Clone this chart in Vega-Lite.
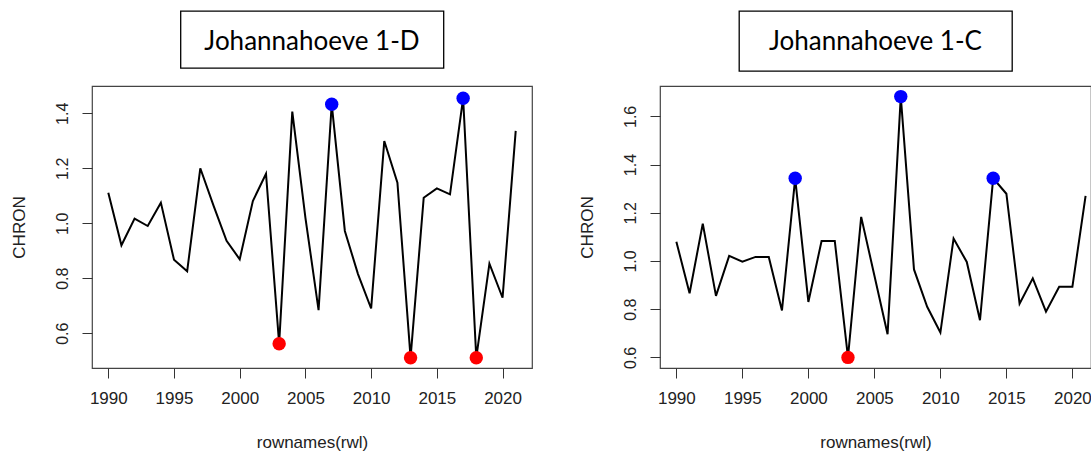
{
  "$schema": "https://vega.github.io/schema/vega-lite/v6.json",
  "autosize": {"type": "pad"},
  "padding": {"left": 9, "top": 10, "right": 0, "bottom": 0},
  "background": "white",
  "config": {
    "font": "Liberation Sans",
    "view": {"stroke": "#444", "strokeWidth": 1.2},
    "axis": {"grid": false, "domain": false, "tickColor": "#333", "tickSize": 10, "labelColor": "#222", "titleColor": "#222", "titleFontWeight": "normal", "labelFlush": false, "labelOverlap": false},
    "axisX": {"format": "d", "labelFontSize": 17, "labelPadding": 12, "titleFontSize": 17, "titleY": 74, "titleBaseline": "middle"},
    "axisY": {"labelAngle": 270, "labelAlign": "center", "labelBaseline": "bottom", "labelFontSize": 16, "labelPadding": 12, "format": ".1f", "titleFontSize": 17, "titleX": -73, "titleBaseline": "middle", "titleAngle": 270}
  },
  "datasets": {
    "chron": [
      {"panel": "1-D", "year": 1990, "value": 1.111, "extreme": "none"},
      {"panel": "1-D", "year": 1991, "value": 0.92, "extreme": "none"},
      {"panel": "1-D", "year": 1992, "value": 1.017, "extreme": "none"},
      {"panel": "1-D", "year": 1993, "value": 0.99, "extreme": "none"},
      {"panel": "1-D", "year": 1994, "value": 1.075, "extreme": "none"},
      {"panel": "1-D", "year": 1995, "value": 0.867, "extreme": "none"},
      {"panel": "1-D", "year": 1996, "value": 0.825, "extreme": "none"},
      {"panel": "1-D", "year": 1997, "value": 1.2, "extreme": "none"},
      {"panel": "1-D", "year": 1998, "value": 1.065, "extreme": "none"},
      {"panel": "1-D", "year": 1999, "value": 0.936, "extreme": "none"},
      {"panel": "1-D", "year": 2000, "value": 0.869, "extreme": "none"},
      {"panel": "1-D", "year": 2001, "value": 1.081, "extreme": "none"},
      {"panel": "1-D", "year": 2002, "value": 1.18, "extreme": "none"},
      {"panel": "1-D", "year": 2003, "value": 0.562, "extreme": "low"},
      {"panel": "1-D", "year": 2004, "value": 1.406, "extreme": "none"},
      {"panel": "1-D", "year": 2005, "value": 1.02, "extreme": "none"},
      {"panel": "1-D", "year": 2006, "value": 0.684, "extreme": "none"},
      {"panel": "1-D", "year": 2007, "value": 1.433, "extreme": "high"},
      {"panel": "1-D", "year": 2008, "value": 0.972, "extreme": "none"},
      {"panel": "1-D", "year": 2009, "value": 0.815, "extreme": "none"},
      {"panel": "1-D", "year": 2010, "value": 0.69, "extreme": "none"},
      {"panel": "1-D", "year": 2011, "value": 1.299, "extreme": "none"},
      {"panel": "1-D", "year": 2012, "value": 1.148, "extreme": "none"},
      {"panel": "1-D", "year": 2013, "value": 0.511, "extreme": "low"},
      {"panel": "1-D", "year": 2014, "value": 1.093, "extreme": "none"},
      {"panel": "1-D", "year": 2015, "value": 1.127, "extreme": "none"},
      {"panel": "1-D", "year": 2016, "value": 1.105, "extreme": "none"},
      {"panel": "1-D", "year": 2017, "value": 1.455, "extreme": "high"},
      {"panel": "1-D", "year": 2018, "value": 0.511, "extreme": "low"},
      {"panel": "1-D", "year": 2019, "value": 0.853, "extreme": "none"},
      {"panel": "1-D", "year": 2020, "value": 0.729, "extreme": "none"},
      {"panel": "1-D", "year": 2021, "value": 1.336, "extreme": "none"},
      {"panel": "1-C", "year": 1990, "value": 1.08, "extreme": "none"},
      {"panel": "1-C", "year": 1991, "value": 0.866, "extreme": "none"},
      {"panel": "1-C", "year": 1992, "value": 1.155, "extreme": "none"},
      {"panel": "1-C", "year": 1993, "value": 0.855, "extreme": "none"},
      {"panel": "1-C", "year": 1994, "value": 1.021, "extreme": "none"},
      {"panel": "1-C", "year": 1995, "value": 0.997, "extreme": "none"},
      {"panel": "1-C", "year": 1996, "value": 1.017, "extreme": "none"},
      {"panel": "1-C", "year": 1997, "value": 1.017, "extreme": "none"},
      {"panel": "1-C", "year": 1998, "value": 0.795, "extreme": "none"},
      {"panel": "1-C", "year": 1999, "value": 1.343, "extreme": "high"},
      {"panel": "1-C", "year": 2000, "value": 0.83, "extreme": "none"},
      {"panel": "1-C", "year": 2001, "value": 1.083, "extreme": "none"},
      {"panel": "1-C", "year": 2002, "value": 1.083, "extreme": "none"},
      {"panel": "1-C", "year": 2003, "value": 0.6, "extreme": "low"},
      {"panel": "1-C", "year": 2004, "value": 1.183, "extreme": "none"},
      {"panel": "1-C", "year": 2005, "value": 0.94, "extreme": "none"},
      {"panel": "1-C", "year": 2006, "value": 0.696, "extreme": "none"},
      {"panel": "1-C", "year": 2007, "value": 1.682, "extreme": "high"},
      {"panel": "1-C", "year": 2008, "value": 0.965, "extreme": "none"},
      {"panel": "1-C", "year": 2009, "value": 0.81, "extreme": "none"},
      {"panel": "1-C", "year": 2010, "value": 0.703, "extreme": "none"},
      {"panel": "1-C", "year": 2011, "value": 1.093, "extreme": "none"},
      {"panel": "1-C", "year": 2012, "value": 0.996, "extreme": "none"},
      {"panel": "1-C", "year": 2013, "value": 0.754, "extreme": "none"},
      {"panel": "1-C", "year": 2014, "value": 1.343, "extreme": "high"},
      {"panel": "1-C", "year": 2015, "value": 1.279, "extreme": "none"},
      {"panel": "1-C", "year": 2016, "value": 0.823, "extreme": "none"},
      {"panel": "1-C", "year": 2017, "value": 0.928, "extreme": "none"},
      {"panel": "1-C", "year": 2018, "value": 0.79, "extreme": "none"},
      {"panel": "1-C", "year": 2019, "value": 0.893, "extreme": "none"},
      {"panel": "1-C", "year": 2020, "value": 0.893, "extreme": "none"},
      {"panel": "1-C", "year": 2021, "value": 1.27, "extreme": "none"}
    ]
  },
  "spacing": 44,
  "hconcat": [
    {
      "bounds": "flush",
      "center": true,
      "spacing": 18,
      "vconcat": [
        {
          "width": 263,
          "height": 57,
          "view": {"stroke": "black", "strokeWidth": 1.3},
          "data": {"values": [{"label": "Johannahoeve 1-D"}]},
          "mark": {"type": "text", "font": "Lato", "fontSize": 26, "color": "black", "baseline": "middle", "align": "center", "dy": 2},
          "encoding": {"text": {"field": "label", "type": "nominal"}}
        },
        {
          "width": 440,
          "height": 282,
          "data": {"name": "chron"},
          "transform": [{"filter": "datum.panel === '1-D'"}],
          "layer": [
            {
              "mark": {"type": "line", "color": "black", "strokeWidth": 2},
              "encoding": {
                "x": {"field": "year", "type": "quantitative", "scale": {"domain": [1988.76, 2022.24], "nice": false, "zero": false}, "axis": {"title": "rownames(rwl)", "values": [1990, 1995, 2000, 2005, 2010, 2015, 2020]}},
                "y": {"field": "value", "type": "quantitative", "scale": {"domain": [0.4735, 1.4993], "nice": false, "zero": false}, "axis": {"title": "CHRON", "values": [0.6, 0.8, 1.0, 1.2, 1.4]}}
              }
            },
            {
              "transform": [{"filter": "datum.extreme !== 'none'"}],
              "mark": {"type": "circle", "size": 180, "opacity": 1},
              "encoding": {
                "x": {"field": "year", "type": "quantitative"},
                "y": {"field": "value", "type": "quantitative"},
                "color": {"field": "extreme", "type": "nominal", "scale": {"domain": ["high", "low"], "range": ["#0000ff", "#ff0000"]}, "legend": null}
              }
            }
          ]
        }
      ]
    },
    {
      "bounds": "flush",
      "center": true,
      "spacing": 15,
      "vconcat": [
        {
          "width": 273,
          "height": 60,
          "view": {"stroke": "black", "strokeWidth": 1.3},
          "data": {"values": [{"label": "Johannahoeve 1-C"}]},
          "mark": {"type": "text", "font": "Lato", "fontSize": 26, "color": "black", "baseline": "middle", "align": "center", "dy": 1},
          "encoding": {"text": {"field": "label", "type": "nominal"}}
        },
        {
          "width": 431,
          "height": 282,
          "data": {"name": "chron"},
          "transform": [{"filter": "datum.panel === '1-C'"}],
          "layer": [
            {
              "mark": {"type": "line", "color": "black", "strokeWidth": 2},
              "encoding": {
                "x": {"field": "year", "type": "quantitative", "scale": {"domain": [1988.76, 2021.41], "nice": false, "zero": false}, "axis": {"title": "rownames(rwl)", "values": [1990, 1995, 2000, 2005, 2010, 2015, 2020]}},
                "y": {"field": "value", "type": "quantitative", "scale": {"domain": [0.556, 1.726], "nice": false, "zero": false}, "axis": {"title": "CHRON", "values": [0.6, 0.8, 1.0, 1.2, 1.4, 1.6]}}
              }
            },
            {
              "transform": [{"filter": "datum.extreme !== 'none'"}],
              "mark": {"type": "circle", "size": 180, "opacity": 1},
              "encoding": {
                "x": {"field": "year", "type": "quantitative"},
                "y": {"field": "value", "type": "quantitative"},
                "color": {"field": "extreme", "type": "nominal", "scale": {"domain": ["high", "low"], "range": ["#0000ff", "#ff0000"]}, "legend": null}
              }
            }
          ]
        }
      ]
    }
  ]
}
